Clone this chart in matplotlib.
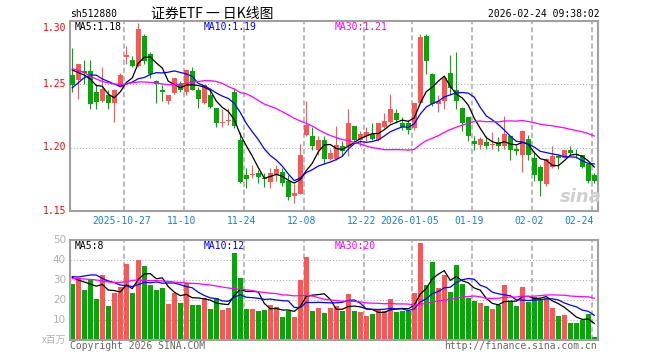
import numpy as np
import pandas as pd
import matplotlib
matplotlib.use('Agg')
import matplotlib.pyplot as plt
import matplotlib.transforms as mtransforms

# daily candles, 2025-10-14 .. 2026-02-24 (88 trading days)
opens = [1.257, 1.253, 1.260, 1.260, 1.244, 1.237, 1.241, 1.235, 1.248, 1.271,
         1.269, 1.264, 1.288, 1.274, 1.252, 1.245, 1.237, 1.243, 1.250, 1.244,
         1.260, 1.245, 1.235, 1.241, 1.231, 1.219, 1.221, 1.244, 1.206, 1.178,
         1.178, 1.180, 1.176, 1.173, 1.178, 1.181, 1.174, 1.162, 1.163, 1.210,
         1.209, 1.198, 1.206, 1.191, 1.191, 1.201, 1.201, 1.217, 1.206, 1.209,
         1.211, 1.206, 1.216, 1.220, 1.227, 1.219, 1.219, 1.215, 1.235, 1.288,
         1.258, 1.234, 1.237, 1.259, 1.245, 1.231, 1.224, 1.205, 1.202, 1.204,
         1.202, 1.204, 1.201, 1.209, 1.199, 1.194, 1.207, 1.192, 1.185, 1.171,
         1.185, 1.193, 1.192, 1.198, 1.195, 1.194, 1.187, 1.178]
closes = [1.249, 1.266, 1.259, 1.234, 1.236, 1.246, 1.235, 1.245, 1.257, 1.273,
          1.264, 1.293, 1.268, 1.258, 1.250, 1.244, 1.241, 1.255, 1.245, 1.261,
          1.245, 1.238, 1.249, 1.232, 1.219, 1.220, 1.222, 1.217, 1.173, 1.175,
          1.179, 1.177, 1.175, 1.180, 1.183, 1.172, 1.161, 1.164, 1.194, 1.218,
          1.201, 1.206, 1.191, 1.196, 1.202, 1.197, 1.219, 1.206, 1.211, 1.212,
          1.207, 1.219, 1.221, 1.230, 1.222, 1.216, 1.214, 1.235, 1.287, 1.268,
          1.234, 1.237, 1.255, 1.247, 1.237, 1.219, 1.209, 1.203, 1.207, 1.201,
          1.203, 1.201, 1.211, 1.198, 1.197, 1.213, 1.194, 1.178, 1.174, 1.191,
          1.193, 1.192, 1.198, 1.196, 1.194, 1.185, 1.174, 1.174]
highs = [1.278, 1.266, 1.269, 1.269, 1.250, 1.263, 1.245, 1.246, 1.259, 1.280,
         1.272, 1.298, 1.289, 1.275, 1.253, 1.249, 1.241, 1.255, 1.252, 1.262,
         1.263, 1.248, 1.249, 1.245, 1.231, 1.230, 1.231, 1.247, 1.212, 1.184,
         1.186, 1.182, 1.180, 1.184, 1.186, 1.184, 1.178, 1.171, 1.203, 1.237,
         1.216, 1.209, 1.209, 1.199, 1.217, 1.205, 1.230, 1.217, 1.213, 1.216,
         1.219, 1.219, 1.227, 1.242, 1.230, 1.224, 1.222, 1.235, 1.289, 1.289,
         1.259, 1.241, 1.256, 1.273, 1.275, 1.232, 1.224, 1.209, 1.208, 1.209,
         1.212, 1.208, 1.225, 1.210, 1.202, 1.214, 1.210, 1.197, 1.186, 1.192,
         1.201, 1.195, 1.198, 1.201, 1.199, 1.194, 1.188, 1.180]
lows = [1.244, 1.238, 1.250, 1.230, 1.230, 1.236, 1.230, 1.220, 1.248, 1.266,
        1.263, 1.263, 1.266, 1.255, 1.235, 1.237, 1.234, 1.242, 1.244, 1.241,
        1.245, 1.231, 1.234, 1.231, 1.216, 1.216, 1.218, 1.215, 1.172, 1.168,
        1.176, 1.172, 1.169, 1.168, 1.174, 1.170, 1.159, 1.156, 1.163, 1.209,
        1.198, 1.194, 1.187, 1.190, 1.190, 1.193, 1.193, 1.205, 1.201, 1.205,
        1.206, 1.205, 1.215, 1.219, 1.219, 1.214, 1.211, 1.214, 1.235, 1.258,
        1.233, 1.228, 1.230, 1.241, 1.230, 1.213, 1.205, 1.198, 1.199, 1.199,
        1.199, 1.197, 1.199, 1.190, 1.194, 1.181, 1.190, 1.174, 1.162, 1.170,
        1.184, 1.183, 1.192, 1.194, 1.192, 1.184, 1.172, 1.172]
# volume, x 百万
volumes = [28.0, 31.0, 25.0, 30.0, 20.5, 32.5, 17.0, 23.5, 26.5, 38.0,
           23.5, 40.0, 37.0, 27.5, 25.0, 26.0, 18.0, 23.3, 18.5, 28.3,
           17.5, 17.5, 21.0, 15.5, 21.0, 15.0, 16.0, 43.7, 31.0, 15.5,
           15.5, 14.5, 15.0, 17.5, 16.5, 11.5, 14.5, 11.5, 30.0, 41.5,
           14.5, 16.0, 13.5, 16.0, 16.8, 14.5, 23.0, 14.5, 14.0, 12.0,
           13.0, 15.5, 14.5, 20.5, 14.0, 14.5, 14.5, 23.5, 48.5, 27.5,
           39.0, 26.0, 32.5, 24.0, 37.5, 28.0, 21.0, 19.5, 18.5, 17.0,
           15.5, 17.5, 27.5, 19.5, 17.0, 26.5, 19.0, 21.5, 20.5, 21.0,
           16.0, 12.0, 12.5, 8.5, 8.5, 10.0, 13.0, 1.5]

# moving average values before a full window is available
ma5_head = [1.261, 1.259, 1.257, 1.254]
ma10_head = [1.247, 1.251, 1.255, 1.257, 1.257, 1.254, 1.252, 1.250, 1.248]
ma30_head = [1.262, 1.2605, 1.259, 1.256, 1.254, 1.252, 1.251, 1.250, 1.2497, 1.250,
             1.251, 1.2516, 1.2516, 1.2513, 1.2508, 1.250, 1.2495, 1.2495, 1.250, 1.2505,
             1.2513, 1.252, 1.2526, 1.2526, 1.252, 1.2505, 1.248, 1.246, 1.2432]
vma5_head = [31.2, 30.0, 29.0, 28.0]
vma10_head = [31.7, 31.5, 32.0, 32.5, 32.5, 30.8, 29.5, 28.7, 27.5]
vma30_head = [30.7, 30.7, 30.5, 30.3, 30.0, 29.5, 29.0, 28.8, 28.8, 29.2,
              29.8, 30.0, 29.8, 29.7, 29.7, 29.5, 29.3, 29.0, 28.7, 28.5,
              28.3, 28.2, 27.8, 27.5, 27.0, 26.5, 26.0, 25.7, 25.3]

date_idx = [9, 19, 29, 39, 49, 57, 67, 77, 87]
date_labels = ['2025-10-27', '11-10', '11-24', '12-08', '12-22',
               '2026-01-05', '01-19', '02-02', '02-24']
price_ticks = [1.30, 1.25, 1.20, 1.15]
vol_ticks = [50, 40, 30, 20, 10]


def moving(values, n, head):
    s = pd.Series(values, dtype=float).rolling(n).mean().values
    s[:n - 1] = head
    return s


RED = '#ff5555'
GREEN = '#00aa00'
GRID = '#aaaaaa'
DATE_BLUE = '#1a80d8'
MONO = 'DejaVu Sans Mono'
W, H = 660, 360

o = np.array(opens); c = np.array(closes)
hi = np.array(highs); lo = np.array(lows)
v = np.array(volumes)
x = np.arange(len(c))
up = c >= o
cols = np.where(up, RED, GREEN)

fig = plt.figure(figsize=(W / 100, H / 100), dpi=100)
fig.patch.set_facecolor('white')


def fx(px):
    return px / W


def fy(py):
    return 1 - py / H


ax = fig.add_axes([fx(70), fy(211), fx(528), 190.5 / H])
ax2 = fig.add_axes([fx(70), fy(340), fx(528), 100 / H])

for a in (ax, ax2):
    a.set_xlim(-0.38, 87.62)
    a.set_xticks([])
    a.set_yticks([])
    for s in a.spines.values():
        s.set_color('#a0a0a0')
        s.set_linewidth(1.5)
    for i in date_idx:
        a.axvline(i - 0.35, color='#b4b4b4', lw=1.3, ls=(0, (2.8, 1.7)), zorder=0)

ax.set_ylim(1.15, 1.30)
ax2.set_ylim(0, 50)
for yv in [1.25, 1.20]:
    ax.axhline(yv, color=GRID, lw=0.75, ls=(0, (1, 2)), zorder=0)
for yv in [10, 20, 30, 40]:
    ax2.axhline(yv, color=GRID, lw=0.75, ls=(0, (1, 2)), zorder=0)

# candles
ax.vlines(x, lo, hi, colors=cols, lw=0.8, zorder=2)
body = np.maximum(np.abs(c - o), 0.0008)
ax.bar(x, body, bottom=np.minimum(o, c), width=0.83, color=cols, lw=0, zorder=3)

ax.plot(x, moving(c, 5, ma5_head), color='black', lw=0.9, zorder=4)
ax.plot(x, moving(c, 10, ma10_head), color='#0000ff', lw=0.9, zorder=4)
ax.plot(x, moving(c, 30, ma30_head), color='#ff00ff', lw=0.9, zorder=4)

# volume
ax2.bar(x, v, width=0.83, color=cols, lw=0, zorder=2)
ax2.plot(x, moving(v, 5, vma5_head), color='black', lw=0.9, zorder=4)
ax2.plot(x, moving(v, 10, vma10_head), color='#0000ff', lw=0.9, zorder=4)
ax2.plot(x, moving(v, 30, vma30_head), color='#ff00ff', lw=0.9, zorder=4)

# price axis labels
tr = mtransforms.blended_transform_factory(fig.transFigure, ax.transData)
for p in price_ticks:
    top = p == price_ticks[0]
    fig.text(fx(66), p - 0.002 if top else p, '%.2f' % p, transform=tr, ha='right',
             va='top' if top else 'center', color='#ff0000', fontsize=7, family=MONO)
tr2 = mtransforms.blended_transform_factory(fig.transFigure, ax2.transData)
for t in vol_ticks:
    fig.text(fx(66), t, str(t), transform=tr2, ha='right', va='center',
             color='#b0b0b0', fontsize=7.5)
fig.text(fx(66), 0, 'x百万', transform=tr2, ha='right', va='center',
         color='#b0b0b0', fontsize=7, family=['Noto Sans CJK SC', 'DejaVu Sans'])

# date labels
for i, lab in zip(date_idx, date_labels):
    if lab == date_labels[-1]:
        fig.text(fx(594), fy(221.5), lab, ha='right', va='center', color=DATE_BLUE,
                 fontsize=7, family=MONO)
    else:
        fig.text(fx(72.3 + 6 * i - 5), fy(221.5), lab, ha='center', va='center',
                 color=DATE_BLUE, fontsize=7, family=MONO)

# header
fig.text(fx(70), fy(14), 'sh512880', ha='left', va='center', fontsize=7, family=MONO)
fig.text(fx(151), fy(14), '证券ETF 一 日K线图', ha='left', va='center', fontsize=10,
         family=['Noto Sans CJK SC', 'DejaVu Sans'])
fig.text(fx(600), fy(14), '2026-02-24 09:38:02', ha='right', va='center', fontsize=7,
         family=MONO)

# MA legends
fig.text(fx(75), fy(26.5), 'MA5:1.18', color='black', fontsize=7, family=MONO, va='center')
fig.text(fx(204), fy(26.5), 'MA10:1.19', color='#0000ff', fontsize=7, family=MONO, va='center')
fig.text(fx(335), fy(26.5), 'MA30:1.21', color='#ff00ff', fontsize=7, family=MONO, va='center')
fig.text(fx(75), fy(246), 'MA5:8', color='black', fontsize=7, family=MONO, va='center')
fig.text(fx(204), fy(246), 'MA10:12', color='#0000ff', fontsize=7, family=MONO, va='center')
fig.text(fx(335), fy(246), 'MA30:20', color='#ff00ff', fontsize=7, family=MONO, va='center')

# watermark and footer
fig.text(fx(581), fy(197), 'sina', ha='center', va='center', fontsize=13, style='italic',
         weight='bold', color='#cfcfcf')
fig.text(fx(70), fy(346), 'Copyright 2026 SINA.COM', ha='left', va='center', fontsize=7,
         family=MONO, color='#666666')
fig.text(fx(597), fy(346), 'http://finance.sina.com.cn', ha='right', va='center', fontsize=7,
         family=MONO, color='#666666')

fig.savefig('out.png', dpi=100, facecolor='white')
